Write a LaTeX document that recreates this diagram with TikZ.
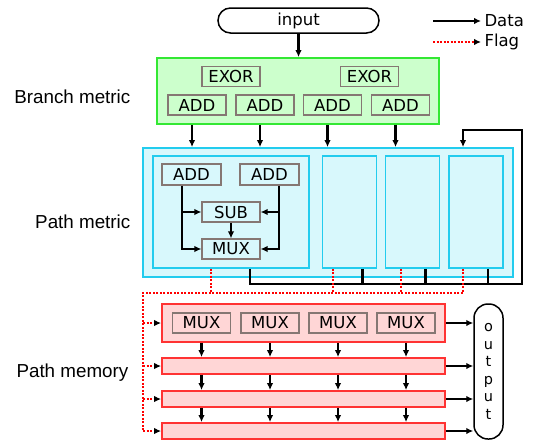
\documentclass[tikz,border=0pt]{standalone}
\usepackage{fontspec}
\setmainfont{DejaVu Sans}
\newfontfamily\labelfont{Liberation Sans}
\usetikzlibrary{arrows.meta,calc}
\definecolor{bmFill}{HTML}{CCFFCC}
\definecolor{bmLine}{HTML}{33E833}
\definecolor{pmFill}{HTML}{D8F8FC}
\definecolor{pmLine}{HTML}{22CCEE}
\definecolor{memFill}{HTML}{FFD6D6}
\definecolor{memLine}{HTML}{FF3333}
\definecolor{partGray}{HTML}{857773}
\definecolor{flagRed}{HTML}{FF0000}
\newcommand\partfont{\fontsize{16.5}{18}\selectfont}

\begin{document}
\begin{tikzpicture}[x=1pt,y=-1pt,
  frame/.style={draw,inner sep=0pt,line width=1.8pt},
  part/.style={draw=partGray,line width=1.2pt,inner sep=0pt,minimum width=58pt,minimum height=20pt,font=\partfont},
  data/.style={line width=2.4pt,-{Latex[length=7pt,width=6.5pt]}},
  bus/.style={line width=2.4pt},
  flag/.style={draw=flagRed,line width=2.2pt,dash pattern=on 2pt off 1.5pt},
  flagarrow/.style={flag,-{Latex[length=7pt,width=6.5pt,color=black]}},
  lbl/.style={anchor=east,inner sep=0pt,font=\labelfont\fontsize{18.8}{19}\selectfont}]
\useasboundingbox (0,0) rectangle (534,442);

\node[frame,line width=1.5pt,rounded corners=12.5pt,minimum width=161pt,minimum height=25pt,font=\partfont] (in) at (298.5,20.5) {input};
\node[anchor=west,font=\partfont] (dat) at (481,21) {Data};
\node[anchor=west,font=\partfont] (flg) at (481,42) {Flag};
\coordinate (lg1) at (433,21);
\coordinate (lg2) at (433,42);
\draw[data,line width=1.5pt] (lg1) -- (dat.west);
\draw[flagarrow,line width=1.5pt] (lg2) -- (flg.west);

\node[lbl] (lbm) at (130.5,97) {Branch metric};
\node[lbl] (lpm) at (130.5,222) {Path metric};
\node[lbl] (lmem) at (128.5,373) {Path memory};

\node[frame,draw=bmLine,fill=bmFill,minimum width=282pt,minimum height=66pt] (bm) at (298,91) {};
\node[part,fill=bmFill] (ex1) at (231,76.5) {EXOR};
\node[part,fill=bmFill] (ex2) at (369.5,76.5) {EXOR};
\foreach \i/\x in {1/197,2/265,3/332.5,4/400.5}
  \node[part,fill=bmFill] (ba\i) at (\x,105) {ADD};
\draw[data] (in) -- (in |- bm.north);

\node[frame,draw=pmLine,fill=pmFill,minimum width=370pt,minimum height=129pt] (pm) at (328,212.5) {};
\node[frame,draw=pmLine,fill=pmFill,minimum width=156pt,minimum height=112pt] (pu1) at (231,212) {};
\foreach \i/\x in {2/349.5,3/412.5,4/476}
  \node[frame,draw=pmLine,fill=pmFill,minimum width=54pt,minimum height=112pt] (pu\i) at (\x,212) {};
\node[part,fill=pmFill,minimum width=59pt,minimum height=21pt] (pa1) at (191.5,174.5) {ADD};
\node[part,fill=pmFill,minimum width=59pt,minimum height=21pt] (pa2) at (269.5,174.5) {ADD};
\node[part,fill=pmFill] (sub) at (231,212) {SUB};
\node[part,fill=pmFill] (mux) at (231,249) {MUX};

\foreach \i in {1,...,4} {
  \coordinate (bo\i) at ([xshift=-5pt]ba\i.south);
  \draw[data] (bo\i |- bm.south) -- (bo\i |- pm.north);
}

\coordinate (l1) at ([xshift=-9.5pt]pa1.south);
\coordinate (r1) at ([xshift=9.5pt]pa2.south);
\draw[data] (l1) |- (mux.west);
\draw[data] (l1 |- sub.west) -- (sub.west);
\draw[data] (r1) |- (mux.east);
\draw[data] (r1 |- sub.east) -- (sub.east);
\draw[data] (sub) -- (mux);

\node[frame,draw=memLine,fill=memFill,minimum width=283pt,minimum height=38pt] (r1) at (303.5,323) {};
\foreach \i/\y in {2/366,3/399,4/431}
  \node[frame,draw=memLine,fill=memFill,minimum width=283pt,minimum height=16pt] (r\i) at (303.5,\y) {};
\foreach \i/\x in {1/201.5,2/270,3/338,4/406}
  \node[part,fill=memFill] (m\i) at (\x,323) {MUX};
\foreach \i in {1,...,4} {
  \draw[data] (m\i.south |- r1.south) -- (m\i.south |- r2.north);
  \draw[data] (m\i.south |- r2.south) -- (m\i.south |- r3.north);
  \draw[data] (m\i.south |- r3.south) -- (m\i.south |- r4.north);
}

\node[frame,line width=1.5pt,fill=white,rounded corners=14pt,minimum width=29pt,minimum height=135pt,align=center,font=\fontsize{14.5}{17.5}\selectfont] (out) at (488.5,371.5) {o\\u\\t\\p\\u\\t};
\foreach \i in {1,...,4}
  \draw[data] (r\i.east) -- (r\i.east -| out.west);

\foreach \i/\d in {1/19,2/13,3/13,4/12}
  \coordinate (po\i) at ([xshift=\d pt]pu\i.south);
\foreach \i/\d in {1/20,2/16.5,3/11.5,4/13}
  \coordinate (fl\i) at ([xshift=-\d pt]pu\i.south);
\coordinate (bus) at (522,284);
\coordinate (fb) at (522,130);
\draw[data] (po1) |- (bus) -- (fb) -| (fl4 |- pm.north);
\foreach \i in {2,3,4}
  \draw[bus] (po\i) -- (po\i |- bus);

\coordinate (fc) at (143,293);
\draw[flag] (fl4) |- (fc) -- (fc |- r4.west);
\foreach \i in {1,2,3}
  \draw[flag] (fl\i) -- (fl\i |- fc);
\foreach \i in {1,...,4}
  \draw[flagarrow] (fc |- r\i.west) -- (r\i.west);
\end{tikzpicture}
\end{document}
